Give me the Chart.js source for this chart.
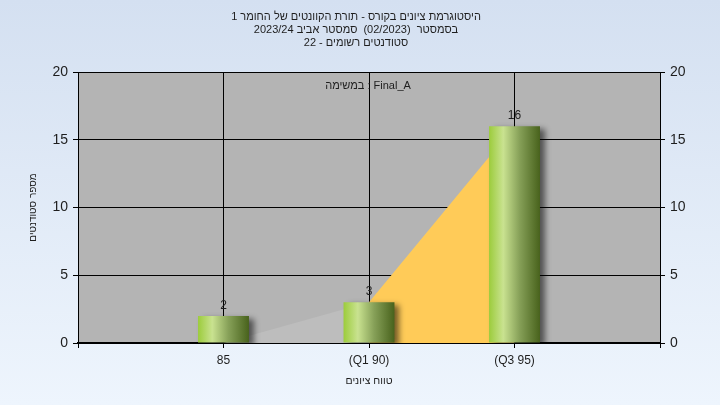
<!DOCTYPE html>
<html lang="he">
<head>
<meta charset="UTF-8" />
<title>היסטוגרמת ציונים</title>
<style>
  body { margin: 0; background: #e4edf8; }
  #chart { display: block; }
</style>
</head>
<body>
<canvas id="chart" width="720" height="405"></canvas>
<script src="https://cdn.jsdelivr.net/npm/chart.js"></script>
<script>
// data
const categories = ['85', '(Q1 90)', '(Q3 95)'];
const studentCounts = [2, 3, 16];
const areaValues = [0, 3, 16];
const yTicks = [0, 5, 10, 15, 20];
const titleLines = [
  'היסטוגרמת ציונים בקורס - תורת הקוונטים של החומר 1',
  'בסמסטר  (02/2023)  סמסטר אביב 2023/24',
  'סטודנטים רשומים - 22'
];
const legendText = 'במשימה : Final_A';
const xTitle = 'טווח ציונים';
const yTitle = 'מספר סטודנטים';

// empty slot on each side of the three categories
const labels = ['', ...categories, ''];
const pad = arr => [null, ...arr, null];

const FONT = "'Liberation Sans', Arial, sans-serif";
const TEXT = '#1e1e1e';
const BAR_PCT = 0.35;

function barGradient(c) {
  const chart = c.chart;
  const xs = chart.scales.x;
  if (!xs || c.type !== 'data') return '#9bcb3c';
  const cx = xs.getPixelForValue(c.dataIndex);
  const step = Math.abs(xs.getPixelForValue(1) - xs.getPixelForValue(0));
  if (!isFinite(cx) || !isFinite(step) || step === 0) return '#9bcb3c';
  const w = step * BAR_PCT;
  const g = chart.ctx.createLinearGradient(cx - w / 2, 0, cx + w / 2, 0);
  g.addColorStop(0, '#9ccc3c');
  g.addColorStop(0.28, '#c9e290');
  g.addColorStop(0.6, '#86a058');
  g.addColorStop(1, '#48621c');
  return g;
}

const backdrop = {
  id: 'backdrop',
  beforeDraw(chart) {
    const {ctx, width, height, chartArea: a} = chart;
    ctx.save();
    const g = ctx.createLinearGradient(0, 0, 0, height);
    g.addColorStop(0, '#d4e0f1');
    g.addColorStop(1, '#eef5fd');
    ctx.fillStyle = g;
    ctx.fillRect(0, 0, width, height);
    ctx.fillStyle = '#b4b4b4';
    ctx.fillRect(a.left, a.top, a.right - a.left, a.bottom - a.top);
    ctx.restore();
  }
};

const barShadow = {
  id: 'barShadow',
  beforeDatasetDraw(chart, args) {
    if (args.meta.type !== 'bar') return;
    const ctx = chart.ctx;
    ctx.save();
    ctx.shadowColor = 'rgba(0,0,0,0.55)';
    ctx.shadowBlur = 6;
    ctx.shadowOffsetX = 5;
    ctx.shadowOffsetY = 3;
  },
  afterDatasetDraw(chart, args) {
    if (args.meta.type !== 'bar') return;
    chart.ctx.restore();
  }
};

const texts = {
  id: 'texts',
  afterDraw(chart) {
    const {ctx, chartArea: a} = chart;
    const midX = (a.left + a.right) / 2;
    ctx.save();
    ctx.fillStyle = TEXT;
    ctx.textAlign = 'center';
    ctx.textBaseline = 'middle';

    ctx.font = '11px ' + FONT;
    titleLines.forEach((line, i) => ctx.fillText(line, 356, 17 + i * 13));
    ctx.fillText(legendText, midX - 1, a.top + 14);

    // bar values
    ctx.font = '12px ' + FONT;
    ctx.textBaseline = 'alphabetic';
    const meta = chart.getDatasetMeta(0);
    meta.data.forEach((el, i) => {
      const v = chart.data.datasets[0].data[i];
      if (v == null) return;
      ctx.fillText(String(v), el.x, el.y - 7);
    });
    ctx.restore();
  }
};

new Chart(document.getElementById('chart'), {
  data: {
    labels: labels,
    datasets: [
      {
        type: 'bar',
        data: pad(studentCounts),
        backgroundColor: barGradient,
        borderWidth: 0,
        barPercentage: BAR_PCT,
        categoryPercentage: 1,
        order: 0
      },
      {
        type: 'line',
        data: pad(areaValues),
        fill: 'origin',
        borderWidth: 0,
        pointRadius: 0,
        backgroundColor: '#ffcb58',
        segment: {
          backgroundColor: c => c.p0DataIndex === 1 ? '#bdbdbd' : '#ffcb58'
        },
        order: 1
      }
    ]
  },
  options: {
    responsive: false,
    animation: false,
    layout: { padding: { top: 72 } },
    plugins: {
      legend: { display: false },
      tooltip: { enabled: false },
      title: { display: false }
    },
    scales: {
      x: {
        type: 'category',
        offset: false,
        grid: { color: '#000', lineWidth: 1, tickLength: 5, offset: false },
        border: { color: '#000', width: 2 },
        ticks: {
          color: TEXT,
          font: { family: FONT, size: 12 },
          padding: 5,
          maxRotation: 0,
          autoSkip: false
        },
        title: {
          display: true,
          text: xTitle,
          color: TEXT,
          font: { family: FONT, size: 10.5 },
          padding: { top: 4, bottom: 17.7 }
        },
        afterFit(s) { s.height = 62; }
      },
      y: {
        position: 'left',
        min: 0,
        max: 20,
        afterBuildTicks(s) { s.ticks = yTicks.map(v => ({ value: v })); },
        grid: { color: '#000', lineWidth: 1, tickLength: 5 },
        border: { color: '#000', width: 1 },
        ticks: { color: TEXT, font: { family: FONT, size: 14 }, padding: 5 },
        title: {
          display: true,
          text: yTitle,
          color: TEXT,
          font: { family: FONT, size: 10 },
          padding: { top: 27, bottom: 27 }
        },
        afterFit(s) { s.width = 78; }
      },
      y1: {
        position: 'right',
        min: 0,
        max: 20,
        afterBuildTicks(s) { s.ticks = yTicks.map(v => ({ value: v })); },
        grid: { color: '#000', drawOnChartArea: false, tickLength: 5 },
        border: { color: '#000', width: 1 },
        ticks: { color: TEXT, font: { family: FONT, size: 14 }, padding: 5 },
        afterFit(s) { s.width = 60; }
      }
    }
  },
  plugins: [backdrop, barShadow, texts]
});
</script>
</body>
</html>
